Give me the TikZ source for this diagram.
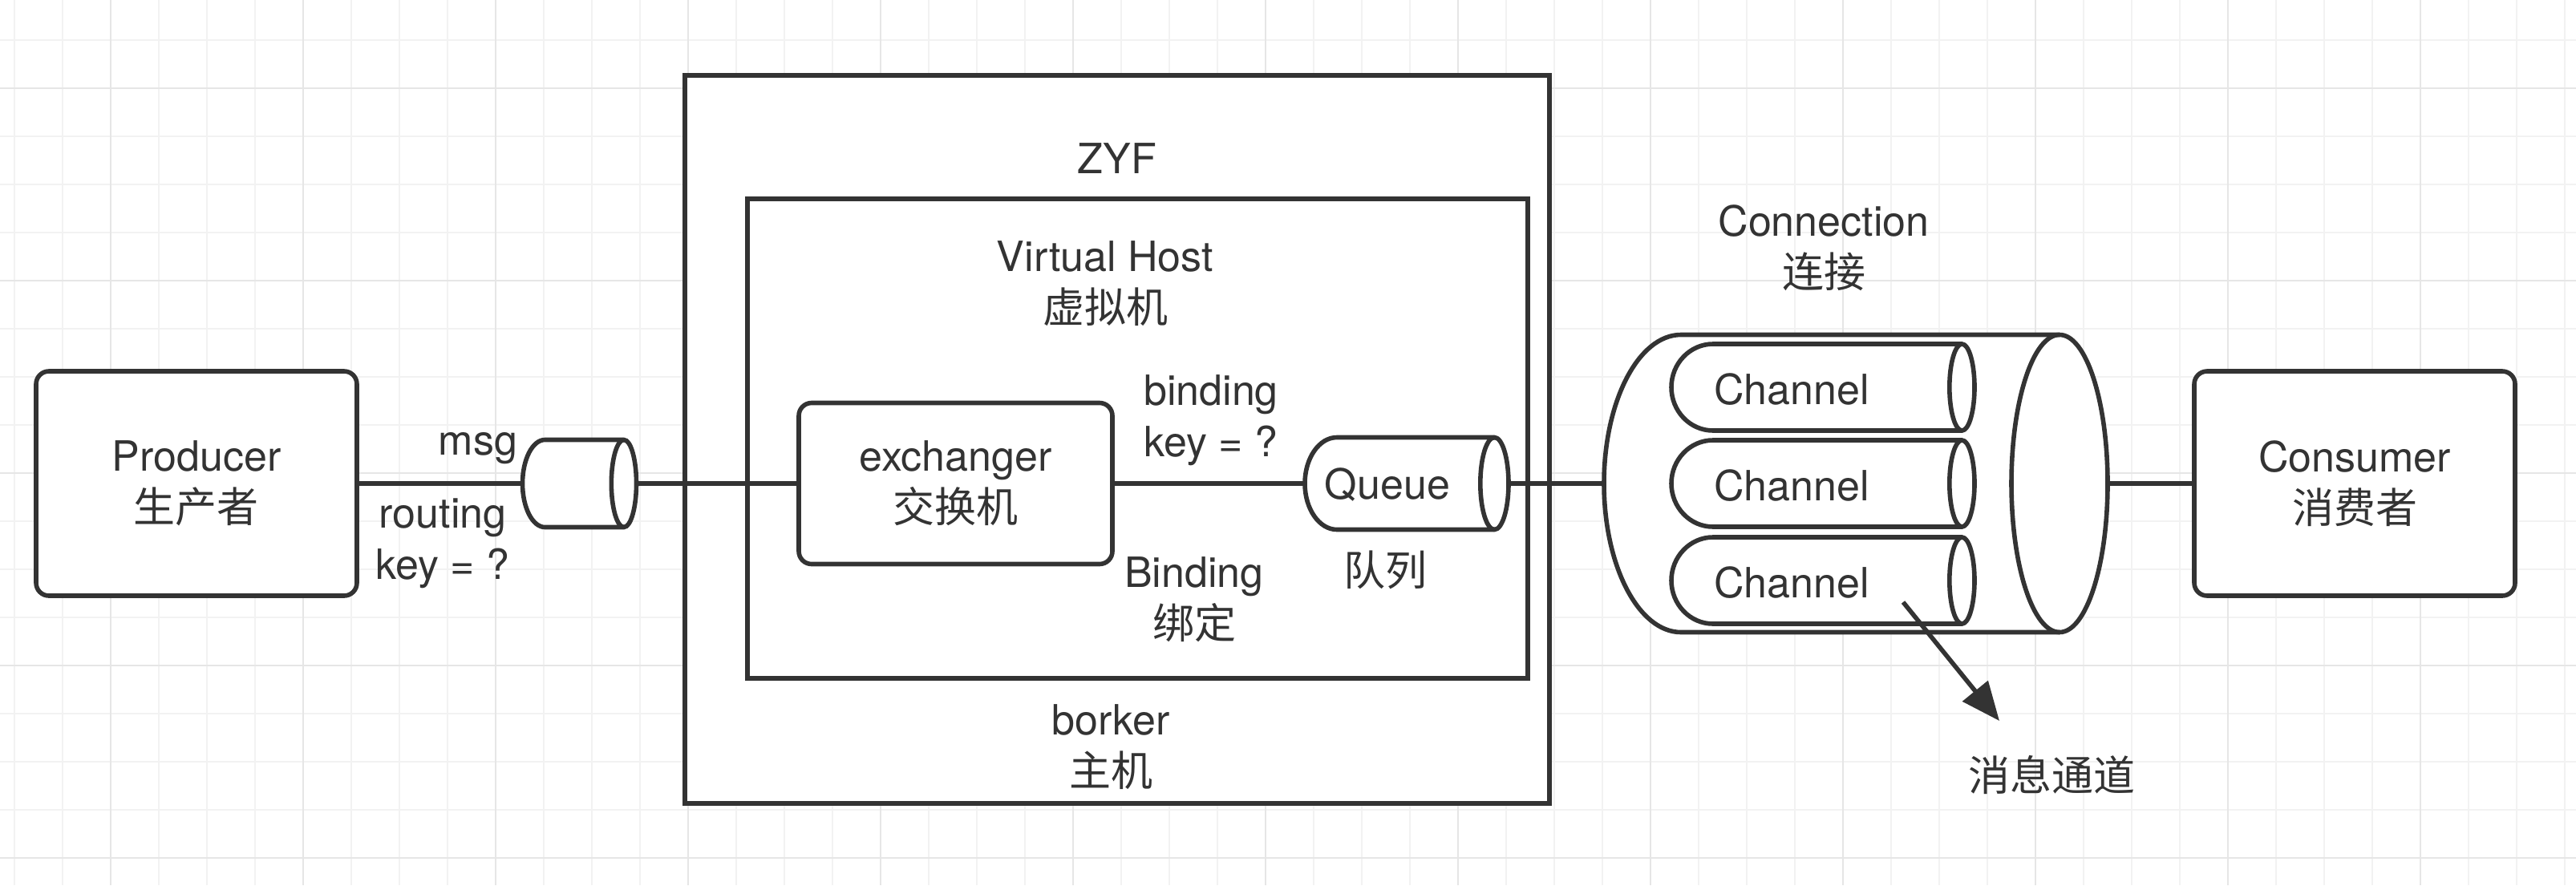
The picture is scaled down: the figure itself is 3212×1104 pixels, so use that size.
\documentclass[tikz,border=0pt]{standalone}
\usepackage{fontspec}
\setmainfont{TeX Gyre Heros}
\newfontfamily\cjk{Noto Sans CJK SC}
\usetikzlibrary{arrows.meta}
\definecolor{ink}{HTML}{333333}
\definecolor{gridminor}{HTML}{F2F2F2}
\definecolor{gridmajor}{HTML}{E6E6E6}
\newcommand\zh[1]{{\cjk #1}}
% #1 node name, #2 right (front) x radius, #3 y radius, #4 left (back) x radius
\newcommand\cylshape[4]{%
  \draw[ln,fill=white] ([xshift=#4]#1.north west) -- ([xshift=-#2]#1.north east)
    arc[start angle=90,end angle=-90,x radius=#2,y radius=#3]
    -- ([xshift=#4]#1.south west)
    arc[start angle=270,end angle=90,x radius=#4,y radius=#3] -- cycle;
  \draw[ln] ([xshift=-#2]#1.north east) arc[start angle=90,end angle=270,x radius=#2,y radius=#3];
}
\tikzset{
  ln/.style={draw=ink,line width=1.4pt},
  txt/.style={text=ink,font=\fontsize{13pt}{16pt}\selectfont,align=center,inner sep=0pt},
  box/.style={ln,fill=white,rounded corners=4pt,txt},
  frame/.style={ln,fill=white,inner sep=0pt,outer sep=0pt},
  cylbox/.style={draw=none,inner sep=0pt,outer sep=0pt},
}
\begin{document}
\begin{tikzpicture}[x=0.25pt,y=-0.25pt]
\fill[white] (0,0) rectangle (3212,1104);
\useasboundingbox (0,0) rectangle (3212,1104);
% grid
\foreach \i in {0,...,53} \draw[gridminor,line width=0.5pt] (18+60*\i,0) -- (18+60*\i,1104);
\foreach \j in {0,...,17} \draw[gridminor,line width=0.5pt] (0,50+60*\j) -- (3212,50+60*\j);
\foreach \i in {0,...,12} \draw[gridmajor,line width=0.6pt] (138+240*\i,0) -- (138+240*\i,1104);
\foreach \j in {0,...,4} \draw[gridmajor,line width=0.6pt] (0,110+240*\j) -- (3212,110+240*\j);

% broker and virtual host
\node[frame,minimum width=269.5pt,minimum height=227pt] (broker) at (1393,548) {};
\node[frame,minimum width=243.25pt,minimum height=149.5pt] (vhost) at (1418.5,547) {};

% nodes
\node[box,minimum width=100pt,minimum height=70pt] (prod) at (245,603) {Producer\\\zh{生产者}};
\node[cylbox,minimum width=35.5pt,minimum height=27.25pt] (msgq) at (722.5,603) {};
\node[box,minimum width=97.75pt,minimum height=50.25pt] (exch) at (1191.5,603) {exchanger\\\zh{交换机}};
\node[cylbox,minimum width=63.5pt,minimum height=28.75pt] (queue) at (1754,603) {};
\node[cylbox,minimum width=157pt,minimum height=92.75pt] (conn) at (2314,603) {};
\node[cylbox,minimum width=94.5pt,minimum height=27pt] (ch1) at (2273,483) {};
\node[cylbox,minimum width=94.5pt,minimum height=27pt] (ch2) at (2273,603) {};
\node[cylbox,minimum width=94.5pt,minimum height=27pt] (ch3) at (2273,724) {};
\node[box,minimum width=100pt,minimum height=70pt] (cons) at (2936,603) {Consumer\\\zh{消费者}};

% connectors
\draw[ln] (prod.east) -- (msgq.west);
\draw[ln] (msgq.east) -- (exch.west);
\draw[ln] (exch.east) -- (queue.west);
\draw[ln] (queue.east) -- (conn.west);
\draw[ln] (conn.east) -- (cons.west);

% cylinders
\cylshape{msgq}{3.9pt}{13.625pt}{7pt}
\cylshape{queue}{4.4pt}{14.375pt}{10pt}
\cylshape{conn}{15pt}{46.375pt}{24pt}
\cylshape{ch1}{3.9pt}{13.5pt}{13pt}
\cylshape{ch2}{3.9pt}{13.5pt}{13pt}
\cylshape{ch3}{3.9pt}{13.5pt}{13pt}

% labels
\node[txt,anchor=base east] (msgl) at (646,567) {msg};
\node[txt] (rkey) at (552,678) {routing\\key = ?};
\node[txt] (zyf) at (1393,198) {ZYF};
\node[txt] (vhl) at (1378,354) {Virtual Host\\\zh{虚拟机}};
\node[txt] (bkey) at (1510,524) {binding\\key = ?};
\node[txt] (bind) at (1489,748) {Binding\\\zh{绑定}};
\node[txt] (ql) at (1730,604) {Queue};
\node[txt] (qzh) at (1727,711) {\zh{队列}};
\node[txt] (brk) at (1385,932) {borker\\\zh{主机}};
\node[txt] (connl) at (2274,309) {Connection\\\zh{连接}};
\node[txt] (c1l) at (2234,486) {Channel};
\node[txt] (c2l) at (2234,606) {Channel};
\node[txt] (c3l) at (2234,727) {Channel};
\node[txt] (tunnel) at (2558,966) {\zh{消息通道}};

% arrow
\coordinate (arrS) at (2373,751);
\coordinate (arrE) at (2493,899);
\draw[ln,-{Triangle[length=12pt,width=10pt]}] (arrS) -- (arrE);
\end{tikzpicture}
\end{document}
